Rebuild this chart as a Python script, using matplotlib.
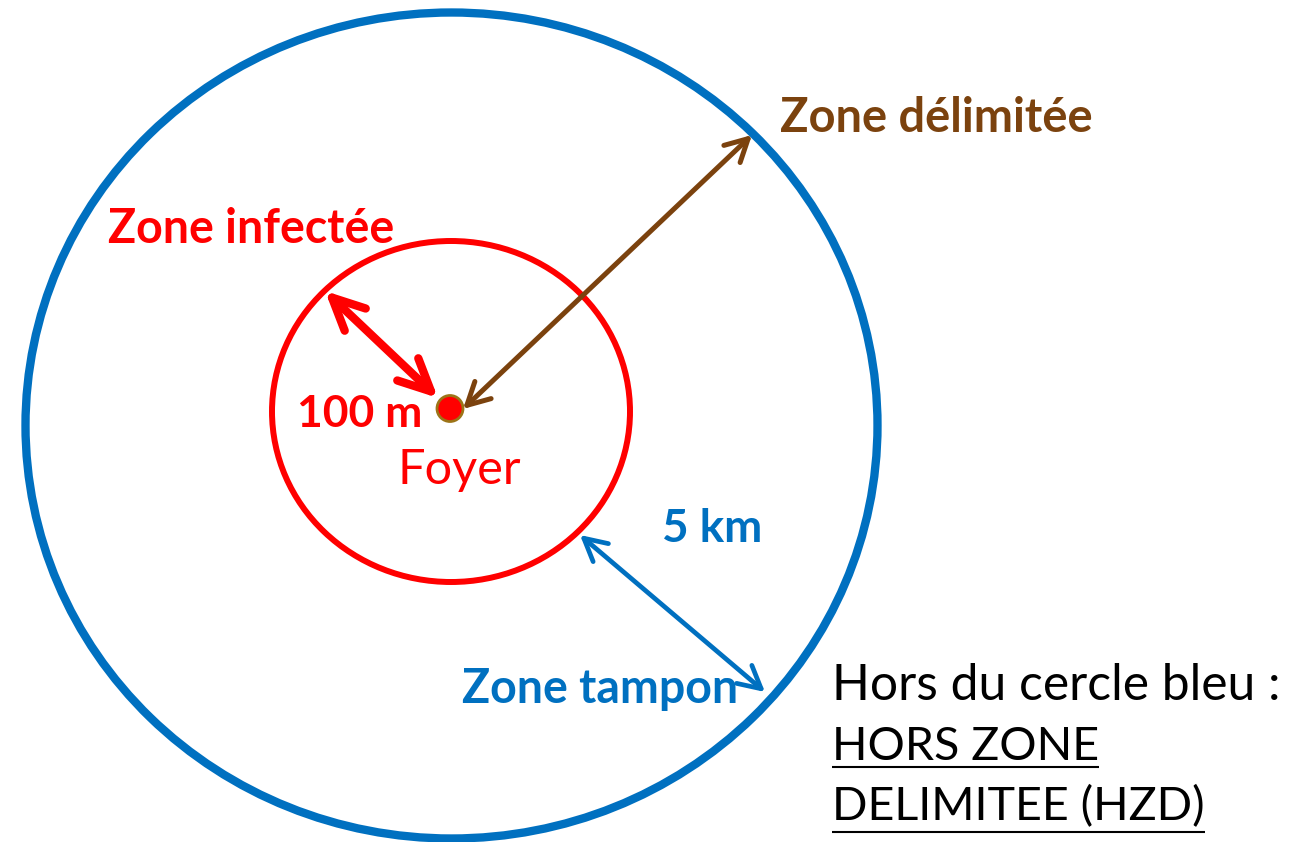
import matplotlib
matplotlib.use("Agg")
import matplotlib.pyplot as plt
from matplotlib.patches import Ellipse, Circle, FancyArrowPatch

W, H = 1306, 842

# zones (pixel space, y downwards)
blue_zone = [451.5, 425.5, 852, 826]     # cx, cy, width, height
red_zone = [451, 411.5, 358, 341]
foyer = [450, 408.5, 13]

# arrows: start, end
arrow_red = [(325, 291), (438, 398)]
arrow_brown = [(463, 409), (752, 135)]
arrow_blue = [(580, 535), (765, 692)]

labels = [
    # text, x, baseline, colour, weight, size
    ("Zone délimitée", 780, 132, "#7B420E", "bold", 33.8),
    ("Zone infectée", 108, 243, "#FF0000", "bold", 33.5),
    ("100 m", 297, 427, "#FF0000", "bold", 32),
    ("Foyer", 397, 484, "#FF0000", "normal", 35),
    ("5 km", 662, 542, "#0070C0", "bold", 33),
    ("Zone tampon", 462, 703, "#0070C0", "bold", 33.5),
    ("Hors du cercle bleu :", 832, 700, "black", "normal", 35.8),
]
underlined = [("HORS ZONE", 832, 760, 767), ("DELIMITEE (HZD)", 832, 820, 832)]

plt.rcParams['font.family'] = ['Lato', 'DejaVu Sans']

fig = plt.figure(figsize=(W / 100, H / 100), dpi=100)
ax = fig.add_axes([0, 0, 1, 1])
ax.set_xlim(0, W)
ax.set_ylim(H, 0)
ax.axis('off')

ax.add_patch(Ellipse(blue_zone[:2], blue_zone[2], blue_zone[3], fill=False,
                     ec="#0070C0", lw=6))
ax.add_patch(Ellipse(red_zone[:2], red_zone[2], red_zone[3], fill=False,
                     ec="#FF0000", lw=4.3))


def arrow(pts, color, lw, hl, hw):
    a = FancyArrowPatch(pts[0], pts[1], arrowstyle="<->,head_length=%g,head_width=%g" % (hl, hw),
                        mutation_scale=1, lw=lw, color=color, shrinkA=0, shrinkB=0,
                        capstyle='round', joinstyle='round')
    ax.add_patch(a)


arrow(arrow_red, "#FF0000", 6, 23, 11)
arrow(arrow_brown, "#7B420E", 3.6, 16, 8.5)
arrow(arrow_blue, "#0070C0", 3.4, 16, 8.5)

ax.add_patch(Circle(foyer[:2], foyer[2], fc="#FF0000", ec="#9C7417", lw=2, zorder=5))

for txt, x, y, c, wt, fs in labels:
    ax.text(x, y, txt, color=c, fontweight=wt, fontsize=fs, ha='left', va='baseline')

utexts = []
for txt, x, y, uy in underlined:
    t = ax.text(x, y, txt, color='black', fontsize=33.6, ha='left', va='baseline')
    utexts.append((t, uy))

fig.canvas.draw()
r = fig.canvas.get_renderer()
for t, uy in utexts:
    bb = t.get_window_extent(r)
    ax.plot([bb.x0, bb.x1], [uy, uy], color='black', lw=1.5, solid_capstyle='butt')

fig.savefig("out.png", dpi=100)
